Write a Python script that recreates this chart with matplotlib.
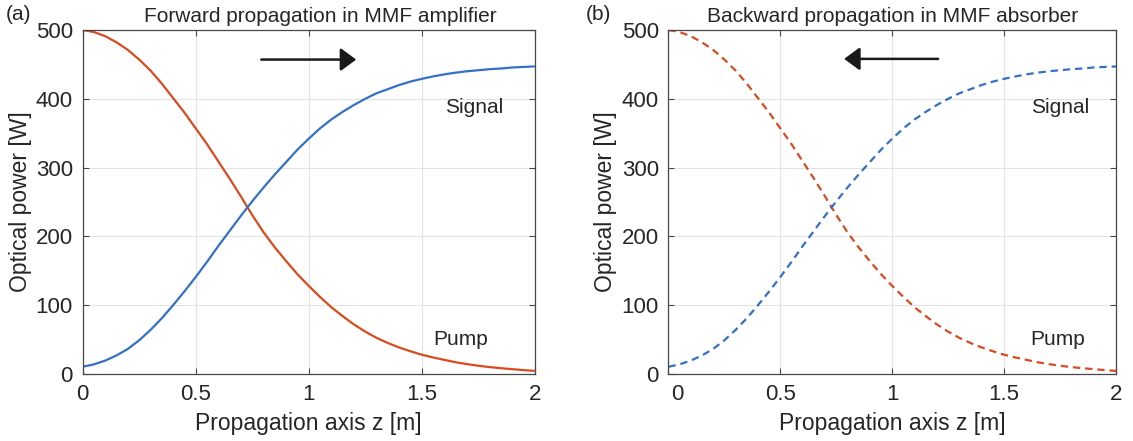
import matplotlib
matplotlib.use('Agg')
import matplotlib.pyplot as plt
from matplotlib.transforms import ScaledTranslation

plt.rcParams['font.family'] = ['Liberation Sans', 'DejaVu Sans']

# data (every 0.05 m)
z = [0.00, 0.05, 0.10, 0.15, 0.20, 0.25, 0.30, 0.35, 0.40, 0.45,
     0.50, 0.55, 0.60, 0.65, 0.70, 0.75, 0.80, 0.85, 0.90, 0.95,
     1.00, 1.05, 1.10, 1.15, 1.20, 1.25, 1.30, 1.35, 1.40, 1.45,
     1.50, 1.55, 1.60, 1.65, 1.70, 1.75, 1.80, 1.85, 1.90, 1.95, 2.00]
signal = [10.5, 14, 19.5, 27, 36.5, 49, 64, 81, 100, 120,
          141, 163, 186, 208, 230, 251, 271, 290, 308, 326,
          342, 357, 370, 381, 391, 400, 408, 414, 420, 425,
          429, 432.5, 435.5, 438, 440, 441.5, 443, 444, 445.5, 446.3, 447]
pump = [500, 497, 491, 482, 471, 457, 441, 422, 401, 380,
        357, 334, 309, 284, 258, 231, 206, 184, 164, 145,
        128, 112, 97, 84, 72, 61.5, 52.5, 45, 38.5, 33,
        28, 24, 20.5, 17, 14.3, 12, 10, 8.4, 7, 5.6, 4.5]

panel_titles = ['Forward propagation in MMF amplifier', 'Backward propagation in MMF absorber']
panel_tags = ['(a)', '(b)']
tag_x = [-0.141, -0.156]
title_x = [0.525, 0.5]
signal_x = [1.73, 1.75]
pump_x = [1.67, 1.74]
arrow_x = [(0.79, 1.21), (1.205, 0.785)]
arrow_y = [457, 458]

xticks = [0, 0.5, 1, 1.5, 2]
xticklabels = ['0', '0.5', '1', '1.5', '2']
yticks = [0, 100, 200, 300, 400, 500]

red = '#DA4A1F'
blue = '#3370C6'
txt = '#262626'
axcol = '#474747'

fig = plt.figure(figsize=(11.33, 4.41), dpi=100)
axes = [fig.add_axes([0.073, 0.152, 0.399, 0.780]),
        fig.add_axes([0.590, 0.152, 0.395, 0.780])]

for i, ax in enumerate(axes):
    if i == 0:
        ax.plot(z, pump, color=red, lw=1.6, solid_capstyle='butt')
        ax.plot(z, signal, color=blue, lw=1.6, solid_capstyle='butt')
    else:
        ax.plot(z, pump, color=red, lw=1.6, ls='--', dashes=(3.3, 2.2))
        ax.plot(z, signal, color=blue, lw=1.6, ls='--', dashes=(3.3, 2.2))

    ax.set_xlim(0, 2)
    ax.set_ylim(0, 500)
    ax.set_xticks(xticks)
    ax.set_xticklabels(xticklabels)
    ax.set_yticks(yticks)
    ax.grid(True, color='#e3e3e3', lw=0.8)
    ax.set_axisbelow(True)
    ax.tick_params(direction='in', length=4, width=0.8, colors=axcol, labelcolor=txt,
                   labelsize=16, top=True, right=True)
    ax.tick_params(axis='x', pad=7)
    ax.tick_params(axis='y', pad=7)
    for s in ax.spines.values():
        s.set_color(axcol)
        s.set_linewidth(0.9)

    ax.set_xlabel('Propagation axis z [m]', fontsize=16.5, color=txt, labelpad=5)
    ax.set_ylabel('Optical power [W]', fontsize=16.5, color=txt, labelpad=3)
    ax.set_title(panel_titles[i], fontsize=15, color=txt, pad=6, x=title_x[i])
    ax.text(tag_x[i], 1.044, panel_tags[i], transform=ax.transAxes, fontsize=15,
            color=txt, ha='center', va='center')

    ax.text(signal_x[i], 387, 'Signal', fontsize=15, color=txt, ha='center', va='center')
    ax.text(pump_x[i], 50, 'Pump', fontsize=15, color=txt, ha='center', va='center')

    x0, x1 = arrow_x[i]
    ax.annotate('', xy=(x1, arrow_y[i]), xytext=(x0, arrow_y[i]),
                arrowprops=dict(arrowstyle='-|>,head_length=0.95,head_width=0.7',
                                color='#1a1a1a', lw=1.8, shrinkA=0, shrinkB=0))

# in panel (b) the "0" tick label sits a little to the right
lbl = axes[1].get_xticklabels()[0]
lbl.set_transform(lbl.get_transform() + ScaledTranslation(0.09, 0, fig.dpi_scale_trans))

fig.savefig('out.png', dpi=100)
